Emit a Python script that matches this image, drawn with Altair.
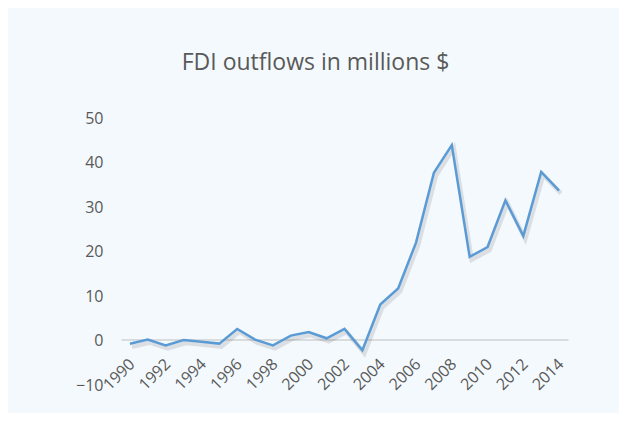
import altair as alt
import pandas as pd

years = list(range(1990, 2015))
fdi = [-0.75, 0.2, -1.1, 0.1, -0.3, -0.7, 2.6, 0.2, -1.1, 1.1, 1.9, 0.5, 2.6, -2.2,
       8.1, 11.7, 22.0, 37.7, 43.9, 18.8, 21.0, 31.5, 23.5, 37.9, 33.7]
tick_years = list(range(1990, 2015, 2))
y_ticks = [-10, 0, 10, 20, 30, 40, 50]

df = pd.DataFrame({"year": years, "fdi": fdi})

W, H = 447, 267
FONT = "Open Sans"
GREY = "#595959"

x_enc = alt.X("year:O", title=None,
              scale=alt.Scale(paddingOuter=0.5),
              axis=alt.Axis(values=tick_years, labelAngle=-45, ticks=False,
                            domain=True, domainColor="#BFBFBF", domainWidth=1,
                            offset=-45.5, labelPadding=16, labelOffset=-4,
                            labelFont=FONT, labelFontSize=16, labelColor=GREY,
                            grid=False))
y_enc = alt.Y("fdi:Q", title=None,
              scale=alt.Scale(domain=[-10, 50], nice=False, zero=False),
              axis=alt.Axis(values=y_ticks, grid=False, ticks=False, domain=False,
                            labelPadding=18, labelFont=FONT, labelFontSize=16,
                            labelColor=GREY))

shadow = alt.Chart(df).mark_line(color="#000000", opacity=0.1, strokeWidth=4.5,
                                 xOffset=2, yOffset=3).encode(x=x_enc, y=y_enc)
line = alt.Chart(df).mark_line(color="#5B9BD5", strokeWidth=2.5,
                               strokeJoin="miter").encode(x=x_enc, y=y_enc)

chart = alt.layer(shadow, line).properties(
    width=W, height=H,
    title=alt.TitleParams("FDI outflows in millions $", font=FONT, fontSize=23,
                          fontWeight="normal", color=GREY, anchor="middle",
                          dx=-29, offset=17, baseline="alphabetic"),
    padding={"left": 113, "top": 110, "right": 51, "bottom": 28},
    autosize=alt.AutoSizeParams(type="none"),
    background="#F4F9FD",
).configure_view(stroke=None)

chart.save("out.html", embed_options={"renderer": "svg", "actions": False})
